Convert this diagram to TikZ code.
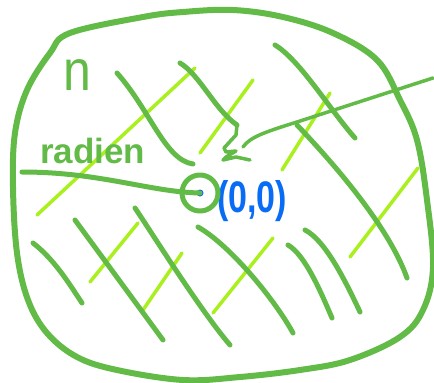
\documentclass[tikz,border=0pt]{standalone}
\usepackage{fontspec}
\setmainfont{Liberation Sans}
\usepackage{tikz}
\usetikzlibrary{arrows.meta,positioning,calc}
\definecolor{PenGreen}{RGB}{98,186,71}
\definecolor{LimeGreen}{RGB}{170,240,30}
\definecolor{PenBlue}{RGB}{8,108,245}

\begin{document}
\begin{tikzpicture}[x=1pt,y=-1pt,line cap=round,line join=round,
    pen/.style={PenGreen,line width=5pt},
    lime/.style={LimeGreen,line width=3.5pt}]
  \useasboundingbox (0,0) rectangle (434,383);
  % outer region
  \draw[PenGreen,line width=6pt] plot[smooth cycle,tension=0.6] coordinates
    {(70,33) (143,17) (183,12) (233,10) (283,17) (333,33) (377,60) (400,100)
     (417,140) (427,200) (433,267) (423,310) (400,337) (350,360) (300,370)
     (240,377) (183,380) (117,370) (77,357) (47,333) (28,300) (17,253)
     (13,187) (15,133) (27,90) (50,53)};
  % light hatching
  \draw[lime] (37,215) -- (195,68);
  \draw[lime] (200,153) -- (253,80);
  \draw[lime] (282,170) -- (330,93);
  \draw[lime] (350,257) -- (418,168);
  \draw[lime] (90,282) -- (138,223);
  \draw[lime] (143,310) -- (182,253);
  \draw[lime] (213,313) -- (273,238);
  % dark hatching
  \draw[pen] (117,73) .. controls (150,110) and (165,160) .. (193,164);
  \draw[pen] (180,63) .. controls (200,75) and (215,110) .. (237,125);
  \draw[pen] (275,45) .. controls (300,60) and (330,110) .. (355,138);
  \draw[pen] (297,125) .. controls (340,170) and (390,230) .. (407,278);
  \draw[pen] (33,243) .. controls (55,260) and (70,285) .. (82,303);
  \draw[pen] (75,220) -- (163,340);
  \draw[pen] (135,208) .. controls (150,230) and (200,310) .. (230,345);
  \draw[pen] (198,227) .. controls (230,245) and (275,300) .. (293,333);
  \draw[pen] (288,245) .. controls (305,255) and (320,290) .. (332,318);
  \draw[pen] (305,230) .. controls (325,240) and (345,280) .. (360,312);
  % labels
  \node[PenGreen,font=\fontsize{50}{50}\selectfont,anchor=base,yscale=1.15] (dimlabel) at (77,90) {n};
  \node[PenGreen,font=\bfseries\fontsize{35}{35}\selectfont,anchor=base west,inner sep=0pt] (radlabel) at (40,163) {radien};
  \node[PenBlue,font=\bfseries\fontsize{34}{34}\selectfont,anchor=base west,inner sep=0pt,yscale=1.3] (orilabel) at (217,212) {(0,0)};
  % centre
  \node[draw=PenGreen,line width=5pt,circle,minimum size=36pt,inner sep=0pt] (origin) at (200,193) {};
  \fill[PenBlue] (origin.center) circle (3.5pt);
  \coordinate (radstart) at (22,172);
  \draw[pen] (radstart) .. controls (100,172) and (150,192) .. (origin.center);
  % pointer
  \coordinate (ptrstart) at (433,78);
  \coordinate (ptrend) at (243,147);
  \draw[pen,line width=3.5pt] (ptrstart) -- (297,122) .. controls (265,132) and (250,137) .. (ptrend);
  \draw[pen,line width=3.5pt] (237,125) -- (236,135) -- (224,148) -- (226,152) -- (236,151)
    -- (226,157) -- (223,160) -- (236,157) -- (250,160);
\end{tikzpicture}
\end{document}
